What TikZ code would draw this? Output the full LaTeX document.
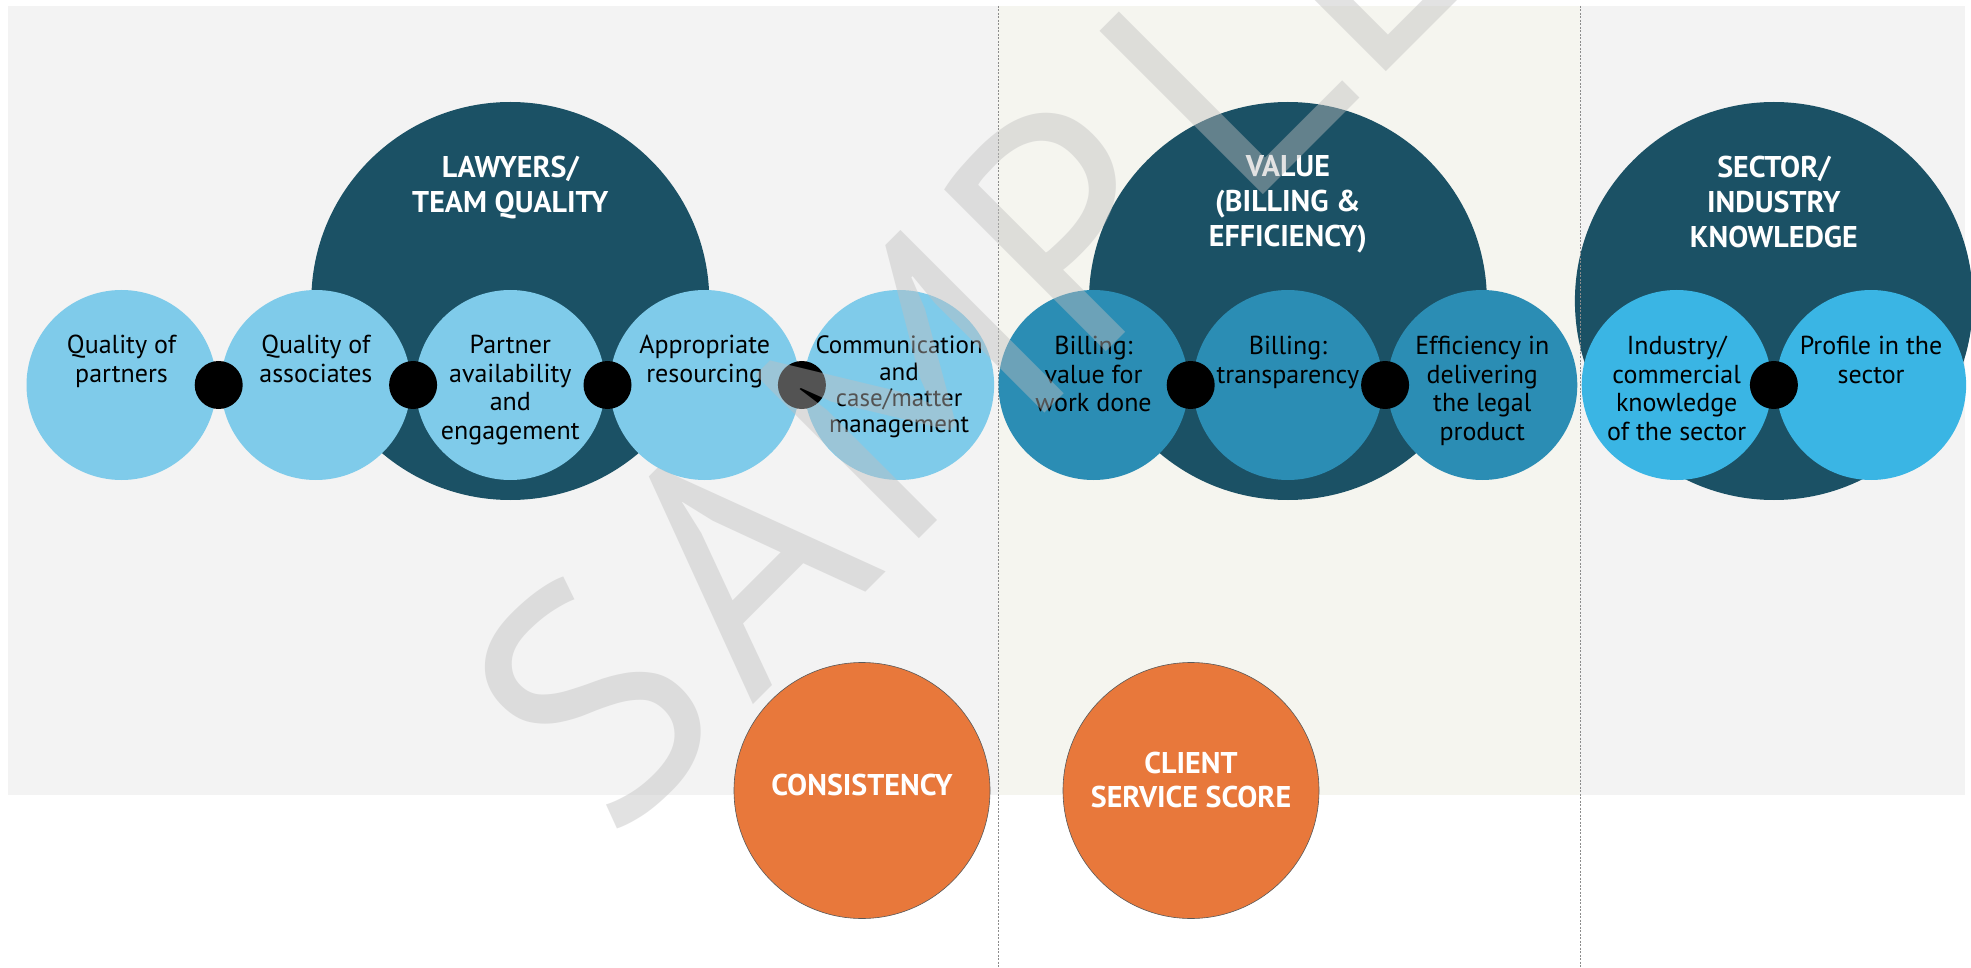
\documentclass[tikz,border=0pt]{standalone}
\usepackage{fontspec}
\setmainfont{PT Sans}
\newfontfamily\wmfont{PT Sans}
\definecolor{dark}{HTML}{1B5165}
\definecolor{lblue}{HTML}{7FCBEA}
\definecolor{mblue}{HTML}{2B8DB4}
\definecolor{bblue}{HTML}{3AB5E4}
\definecolor{orng}{HTML}{E8783B}
\definecolor{pgrey}{HTML}{F3F3F3}
\definecolor{pbeige}{HTML}{F5F5EF}
\definecolor{wmgrey}{HTML}{BFBFBF}
\newcommand\stackl[1]{\begin{tabular}[t]{@{}c@{}}#1\end{tabular}}
\tikzset{
  bigc/.style={circle, fill=dark, minimum size=398pt, inner sep=0pt},
  subc/.style={circle, minimum size=190pt, inner sep=0pt},
  dotc/.style={circle, fill=black, minimum size=48pt, inner sep=0pt},
  lbl/.style={anchor=base, inner sep=0pt, text=black, font=\fontsize{26}{28.5}\selectfont},
  lblsmall/.style={anchor=base, inner sep=0pt, text=black, font=\fontsize{25}{26.3}\selectfont},
  head/.style={anchor=base, inner sep=0pt, text=white, font=\bfseries\fontsize{30}{35}\selectfont},
  orangec/.style={circle, fill=orng, draw=black!65, line width=0.6pt, minimum size=256pt, inner sep=0pt},
  divider/.style={draw=black!45, line width=0.8pt, dash pattern=on 2pt off 1.5pt},
  wmark/.style={rotate=45, anchor=base west, inner sep=0pt, text=wmgrey, opacity=0.44, font=\wmfont\fontsize{330}{380}\selectfont},
}
\begin{document}
\begin{tikzpicture}[x=1pt,y=1pt]
\useasboundingbox (0,0) rectangle (1971,-968);
\fill[white] (0,0) rectangle (1971,-968);
% panels
\fill[pgrey] (8,-6) rectangle (998,-795);
\fill[pbeige] (998,-6) rectangle (1580,-795);
\fill[pgrey] (1580,-6) rectangle (1965,-795);
% big circles
\node[bigc] (lawyers) at (510.3,-301) {};
\node[bigc] (value) at (1287.9,-301) {};
\node[bigc] (sector) at (1773.9,-301) {};
% dividers
\coordinate (v1t) at (998,-6); \coordinate (v1b) at (998,-968);
\coordinate (v2t) at (1580,-6); \coordinate (v2b) at (1580,-968);
\draw[divider] (v1t) -- (v1b);
\draw[divider] (v2t) -- (v2b);
% sub circles
\node[subc, fill=lblue] (c0) at (121.5,-385) {};
\node[subc, fill=lblue] (c1) at (315.9,-385) {};
\node[subc, fill=lblue] (c2) at (510.3,-385) {};
\node[subc, fill=lblue] (c3) at (704.7,-385) {};
\node[subc, fill=lblue] (c4) at (899.1,-385) {};
\node[subc, fill=mblue] (c5) at (1093.5,-385) {};
\node[subc, fill=mblue] (c6) at (1287.9,-385) {};
\node[subc, fill=mblue] (c7) at (1482.3,-385) {};
\node[subc, fill=bblue] (c8) at (1676.7,-385) {};
\node[subc, fill=bblue] (c9) at (1871.1,-385) {};
% dots
\node[dotc] (d01) at (218.7,-385) {};
\node[dotc] (d12) at (413.1,-385) {};
\node[dotc] (d23) at (607.5,-385) {};
\node[dotc] (d34) at (801.9,-385) {};
\node[dotc] (d56) at (1190.7,-385) {};
\node[dotc] (d67) at (1385.1,-385) {};
\node[dotc] (d89) at (1773.9,-385) {};
% labels
\node[lbl] (t0) at (121.5,-354) {\stackl{Quality of\\partners}};
\node[lbl] (t1) at (315.9,-354) {\stackl{Quality of\\associates}};
\node[lbl] (t2) at (510.3,-354) {\stackl{Partner\\availability\\and\\engagement}};
\node[lbl] (t3) at (704.7,-354) {\stackl{Appropriate\\resourcing}};
\node[lblsmall] (t4) at (899.1,-354) {\stackl{Communication\\and\\case/matter\\management}};
\node[lbl] (t5) at (1093.5,-355) {\stackl{Billing:\\value for\\work done}};
\node[lbl] (t6) at (1287.9,-355) {\stackl{Billing:\\transparency}};
\node[lbl] (t7) at (1482.3,-355) {\stackl{Efficiency in\\delivering\\the legal\\product}};
\node[lbl] (t8) at (1676.7,-355) {\stackl{Industry/\\commercial\\knowledge\\of the sector}};
\node[lbl] (t9) at (1871.1,-355) {\stackl{Profile in the\\sector}};
% headings
\node[head] (h1) at (510.3,-178) {\stackl{LAWYERS/\\TEAM QUALITY}};
\node[head] (h2) at (1287.9,-177) {\stackl{VALUE\\(BILLING \&\\EFFICIENCY)}};
\node[head] (h3) at (1773.9,-178) {\stackl{SECTOR/\\INDUSTRY\\KNOWLEDGE}};
% orange
\node[orangec] (cons) at (862,-790.5) {};
\node[orangec] (css) at (1191,-790.5) {};
\node[head] (tcons) at (862,-795) {CONSISTENCY};
\node[head, font=\bfseries\fontsize{30}{34}\selectfont] (tcss) at (1191,-773) {\stackl{CLIENT\\SERVICE SCORE}};
% watermark
\node[wmark] (wmS) at (612.3,-845.7) {S};
\node[wmark] (wmA) at (750.9,-707.1) {A};
\node[wmark] (wmM) at (899.4,-558.6) {M};
\node[wmark] (wmP) at (1086.1,-371.9) {P};
\node[wmark] (wmL) at (1243.1,-214.9) {L};
\node[wmark] (wmE) at (1366.8,-91.2) {E};
\end{tikzpicture}
\end{document}
